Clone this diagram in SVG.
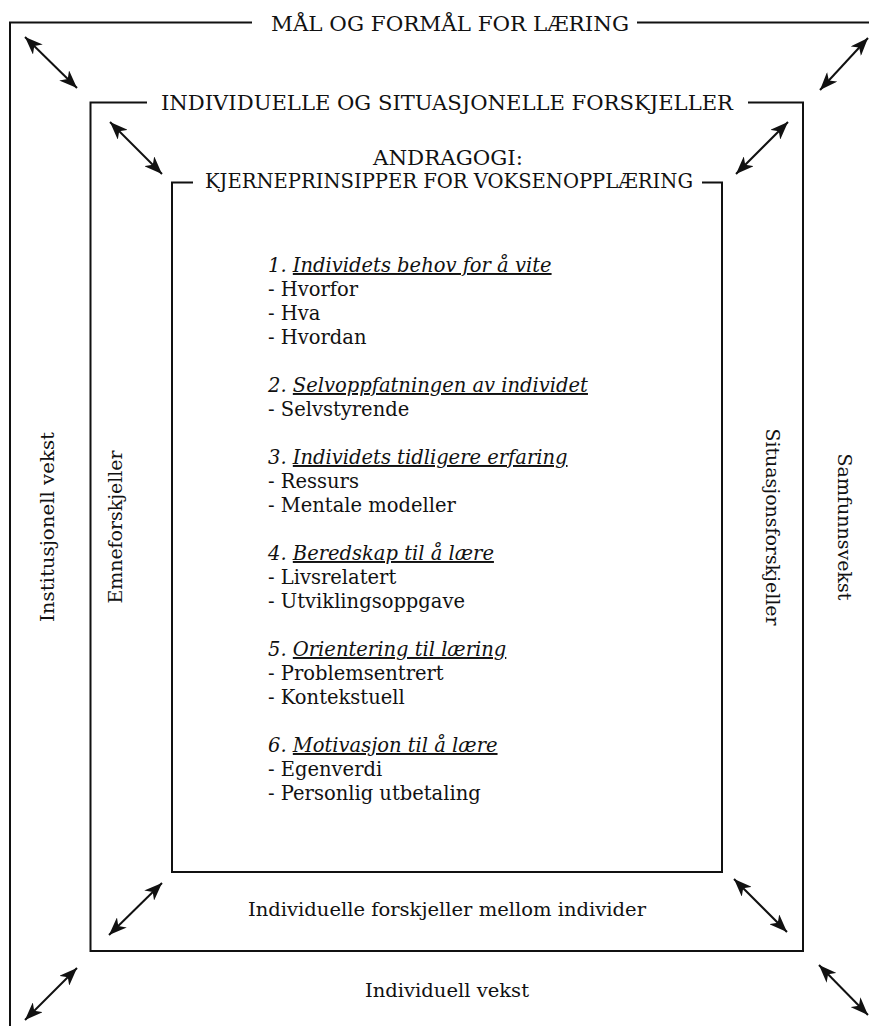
<svg xmlns="http://www.w3.org/2000/svg" width="869" height="1026" viewBox="0 0 869 1026">
  <style>
    text { font-family: "DejaVu Serif", "Liberation Serif", serif; fill: #111; }
    .title { font-size: 19.5px; text-anchor: middle; }
    .label { font-size: 19px; text-anchor: middle; }
    .item { font-size: 19.5px; }
    .head { font-style: italic; }
    .u { text-decoration: underline; }
    .frame { fill: none; stroke: #111; stroke-width: 2; }
    .arrow { fill: none; stroke: #111; stroke-width: 2; marker-start: url(#head); marker-end: url(#head); }
  </style>
  <defs>
    <marker id="head" viewBox="0 0 18 14" refX="18" refY="7" markerWidth="18" markerHeight="14" markerUnits="userSpaceOnUse" orient="auto-start-reverse">
      <path d="M0,0 L18,7 L0,14 L5,7 z" fill="#111"/>
    </marker>
  </defs>
  <rect width="869" height="1026" fill="#fff"/>

  <!-- Outer frame: goals and purposes of learning -->
  <g id="outer">
    <path class="frame" d="M252,22.5 H10 V1030 M637,22.5 H872"/>
    <text class="title" x="450" y="30.5" textLength="358" lengthAdjust="spacingAndGlyphs">MÅL OG FORMÅL FOR LÆRING</text>
    <text class="label" x="447" y="997" textLength="164" lengthAdjust="spacingAndGlyphs">Individuell vekst</text>
    <text class="label" transform="translate(54,527) rotate(-90)" x="0" y="0" textLength="190" lengthAdjust="spacingAndGlyphs">Institusjonell vekst</text>
    <text class="label" transform="translate(838,527) rotate(90)" x="0" y="0" textLength="147" lengthAdjust="spacingAndGlyphs">Samfunnsvekst</text>
  </g>

  <!-- Middle frame: individual and situational differences -->
  <g id="middle">
    <path class="frame" d="M147,102.5 H90.5 V951 H803 V102.5 H748"/>
    <text class="title" x="447" y="109.5" textLength="572" lengthAdjust="spacingAndGlyphs">INDIVIDUELLE OG SITUASJONELLE FORSKJELLER</text>
    <text class="label" x="447" y="915.5" textLength="398" lengthAdjust="spacingAndGlyphs">Individuelle forskjeller mellom individer</text>
    <text class="label" transform="translate(122,527) rotate(-90)" x="0" y="0" textLength="153" lengthAdjust="spacingAndGlyphs">Emneforskjeller</text>
    <text class="label" transform="translate(765.5,527) rotate(90)" x="0" y="0" textLength="197" lengthAdjust="spacingAndGlyphs">Situasjonsforskjeller</text>
  </g>

  <!-- Inner frame: andragogy core principles -->
  <g id="inner">
    <path class="frame" d="M193,182.5 H172 V872 H722 V182.5 H702"/>
    <text class="title" x="448" y="164.5" textLength="150" lengthAdjust="spacingAndGlyphs">ANDRAGOGI:</text>
    <text class="title" x="449" y="187.5" textLength="488" lengthAdjust="spacingAndGlyphs">KJERNEPRINSIPPER FOR VOKSENOPPLÆRING</text>
  </g>

  <g id="principles" class="item">
    <text x="268" y="272" class="head">1. <tspan class="u">Individets behov for å vite</tspan></text>
    <text x="268" y="296">- Hvorfor</text>
    <text x="268" y="320">- Hva</text>
    <text x="268" y="344">- Hvordan</text>

    <text x="268" y="392" class="head">2. <tspan class="u">Selvoppfatningen av individet</tspan></text>
    <text x="268" y="416">- Selvstyrende</text>

    <text x="268" y="464" class="head">3. <tspan class="u">Individets tidligere erfaring</tspan></text>
    <text x="268" y="488">- Ressurs</text>
    <text x="268" y="512">- Mentale modeller</text>

    <text x="268" y="560" class="head">4. <tspan class="u">Beredskap til å lære</tspan></text>
    <text x="268" y="584">- Livsrelatert</text>
    <text x="268" y="608">- Utviklingsoppgave</text>

    <text x="268" y="656" class="head">5. <tspan class="u">Orientering til læring</tspan></text>
    <text x="268" y="680">- Problemsentrert</text>
    <text x="268" y="704">- Kontekstuell</text>

    <text x="268" y="752" class="head">6. <tspan class="u">Motivasjon til å lære</tspan></text>
    <text x="268" y="776">- Egenverdi</text>
    <text x="268" y="800">- Personlig utbetaling</text>
  </g>

  <!-- Two-way influence between the nested levels -->
  <g id="connectors">
    <line class="arrow" x1="25" y1="37" x2="77" y2="88"/>
    <line class="arrow" x1="868" y1="38" x2="820" y2="90"/>
    <line class="arrow" x1="77" y1="968" x2="25" y2="1020"/>
    <line class="arrow" x1="819" y1="965" x2="868" y2="1015"/>
    <line class="arrow" x1="110" y1="122" x2="162" y2="174"/>
    <line class="arrow" x1="788" y1="122" x2="736" y2="174"/>
    <line class="arrow" x1="162" y1="883" x2="109" y2="935"/>
    <line class="arrow" x1="734" y1="879" x2="787" y2="932"/>
  </g>
</svg>
